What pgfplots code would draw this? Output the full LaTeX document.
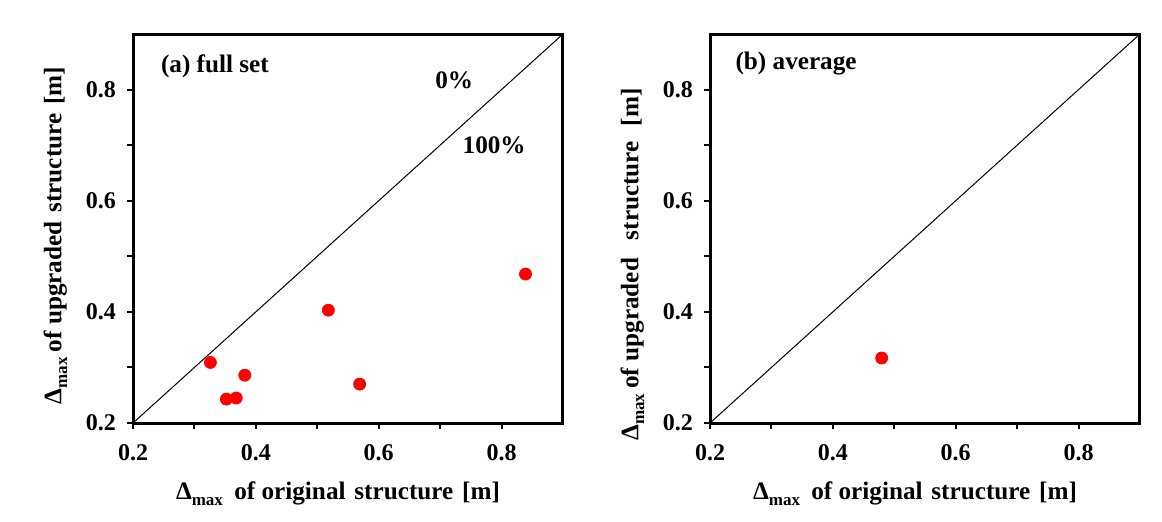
\documentclass[border=0pt]{standalone}
\usepackage{fontspec}
\setmainfont{Liberation Serif}
\usepackage{pgfplots}
\pgfplotsset{compat=1.18}

\newcommand{\dmax}{Δ\raisebox{-0.5ex}{\fontsize{8.5}{9}\selectfont max}}
\newcommand{\lblfont}{\fontsize{12.6}{14}\selectfont\bfseries}

\pgfplotsset{
  panel/.style={
    scale only axis, width=215pt, height=194.5pt,
    xmin=0.2, xmax=0.9, ymin=0.2, ymax=0.9,
    xtick={0.2,0.4,0.6,0.8}, ytick={0.2,0.4,0.6,0.8},
    minor xtick={0.3,0.5,0.7}, minor ytick={0.3,0.5,0.7},
    tick pos=left, tick align=outside,
    major tick length=3pt, minor tick length=3pt,
    every tick/.style={black, line width=1pt},
    axis line style={line width=1.5pt},
    /pgf/number format/assume math mode=true,
    /pgf/number format/fixed, /pgf/number format/precision=1,
    /pgf/number format/fixed zerofill,
    tick label style={font=\fontsize{12}{13}\selectfont\bfseries},
    xticklabel style={yshift=-4pt},
    yticklabel style={xshift=-2pt},
    label style={font=\lblfont},
    xlabel={\dmax\hspace{0.45em}of original\hspace{0.35em}structure\hspace{0.35em}[m]},
    xlabel style={yshift=-4pt, xshift=-5pt},
    clip=false,
  },
  dots/.style={only marks, mark=*, mark size=3pt, color=red, mark options={fill=red, draw=red}},
  diag/.style={black, line width=0.5pt, no marks},
}

\begin{document}
\begin{tikzpicture}
\path[use as bounding box] (0,0) rectangle (581pt,260.5pt);

\begin{axis}[panel, at={(66.5pt,49pt)}, anchor=south west,
    ylabel={\dmax\hspace{0.2em}of upgraded\hspace{0.35em}structure\hspace{0.35em}[m]},
    ylabel style={yshift=2.5pt, xshift=-3.5pt}]
  \addplot[diag] coordinates {(0.2,0.2) (0.9,0.9)};
  \addplot[dots] coordinates {
    (0.326,0.309) (0.352,0.243) (0.368,0.245) (0.382,0.286)
    (0.518,0.403) (0.569,0.270) (0.839,0.468)
  };
  \node[anchor=west, inner sep=0pt, font=\lblfont] at (axis cs:0.245,0.841) {(a) full set};
  \node[font=\lblfont] at (axis cs:0.723,0.817) {0\%};
  \node[font=\lblfont] at (axis cs:0.788,0.699) {100\%};
\end{axis}

\begin{axis}[panel, at={(355pt,49pt)}, anchor=south west,
    ylabel={\dmax\hspace{0.2em}of upgraded\hspace{0.7em}structure\hspace{0.6em}[m]},
    ylabel style={yshift=2.5pt, xshift=-18pt}]
  \addplot[diag] coordinates {(0.2,0.2) (0.9,0.9)};
  \addplot[dots] coordinates {(0.4795,0.317)};
  \node[anchor=west, inner sep=0pt, font=\lblfont] at (axis cs:0.241,0.847) {(b) average};
\end{axis}
\end{tikzpicture}
\end{document}
